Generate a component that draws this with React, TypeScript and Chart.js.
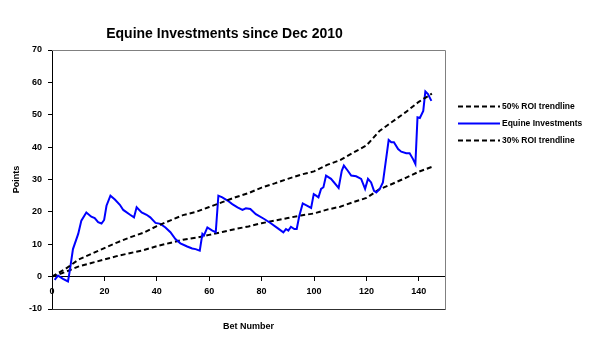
import React, { useEffect, useRef } from 'react';
import { Chart, registerables } from 'chart.js';

Chart.register(...registerables);

const chartTitle = 'Equine Investments since Dec 2010';
const xAxisTitle = 'Bet Number';
const yAxisTitle = 'Points';
const seriesNames = ['50% ROI trendline', 'Equine Investments', '30% ROI trendline'];

const xTicks = [0, 20, 40, 60, 80, 100, 120, 140];
const yTicks = [-10, 0, 10, 20, 30, 40, 50, 60, 70];

const trendBets = [0, 5, 10, 15, 20, 25, 30, 35, 40, 45, 50, 55, 60, 65, 70, 75, 80, 85, 90, 95, 100, 105, 110, 115, 120, 125, 130, 135, 140, 145];
const roi50 = [0, 2.3, 5.2, 7.0, 8.8, 10.6, 12.2, 13.6, 15.6, 17.3, 19.0, 20.0, 21.5, 23.0, 24.5, 25.8, 27.5, 28.8, 30.2, 31.5, 32.5, 34.5, 36.0, 38.3, 40.5, 45.0, 47.9, 50.8, 54.0, 56.5];
const roi30 = [0, 1.4, 3.1, 4.2, 5.3, 6.4, 7.3, 8.2, 9.4, 10.4, 11.4, 12.0, 12.9, 13.8, 14.7, 15.5, 16.5, 17.3, 18.1, 18.9, 19.5, 20.7, 21.6, 23.0, 24.3, 27.0, 28.7, 30.5, 32.4, 33.9];

const equineBets = [1, 2.3, 4.2, 6.1, 6.8, 8, 10, 11.2, 13.1, 15, 16.3, 17.6, 18.9, 19.9, 20.8, 22.3, 24, 25.9, 27.2, 29.8, 31.3, 32.3, 34.2, 36.1, 37.5, 39.5, 41.4, 43.3, 45.2, 47.1, 49, 51.6, 53.5, 54.8, 56.4, 57.4, 58, 59.3, 61.2, 62.5, 63.5, 65, 67, 68.8, 70.8, 72.7, 74, 75.7, 77.8, 81, 83.5, 86.1, 88.3, 89.3, 90.2, 91.2, 92.5, 93.4, 94.4, 95.7, 97.3, 98.9, 99.9, 100.8, 101.7, 102.7, 103.6, 104.6, 106.5, 109.4, 110.6, 111.4, 112.9, 114.2, 116.1, 118, 119.5, 120.6, 121.8, 122.9, 123.8, 125.1, 126.3, 127.6, 128.5, 129.5, 130.5, 132.1, 133.3, 135.2, 136.5, 137.8, 138.7, 139.5, 140.4, 141.7, 142.5, 143.5, 144.8];
const equinePoints = [-1.0, 0.3, -0.7, -1.5, 1.9, 8.5, 13.2, 17.3, 19.8, 18.5, 18.1, 16.8, 16.4, 17.5, 21.9, 25.0, 23.8, 22.2, 20.6, 19.1, 18.3, 21.4, 19.8, 19.1, 18.3, 16.6, 16.3, 15.2, 13.7, 11.6, 10.3, 9.3, 8.7, 8.5, 8.0, 13.2, 12.7, 15.2, 14.2, 13.7, 25.0, 24.5, 23.5, 22.4, 21.4, 20.6, 21.1, 20.9, 19.3, 17.8, 16.5, 15.0, 13.7, 14.7, 14.2, 15.4, 14.7, 14.7, 18.8, 22.6, 21.9, 21.2, 25.5, 25.0, 24.5, 27.1, 27.6, 31.2, 30.2, 27.4, 32.7, 34.3, 32.7, 31.2, 31.0, 30.2, 27.1, 30.2, 29.1, 26.5, 26.0, 27.1, 29.1, 36.8, 42.2, 41.5, 41.5, 39.4, 38.6, 38.1, 38.1, 36.3, 34.8, 49.2, 49.0, 51.2, 57.2, 56.4, 54.3];

const FONT = "'Liberation Sans', Arial, sans-serif";

const plotBorder = {
  id: 'plotBorder',
  beforeDatasetsDraw(chart: any) {
    const { ctx, chartArea: a } = chart;
    ctx.save();
    ctx.strokeStyle = '#808080';
    ctx.lineWidth = 1;
    ctx.beginPath();
    ctx.moveTo(a.left, Math.round(a.top) + 0.5);
    ctx.lineTo(Math.round(a.right) + 0.5, Math.round(a.top) + 0.5);
    ctx.lineTo(Math.round(a.right) + 0.5, Math.round(a.bottom) + 0.5);
    ctx.stroke();
    ctx.strokeStyle = '#303030';
    ctx.beginPath();
    ctx.moveTo(a.left, Math.round(a.bottom) + 0.5);
    ctx.lineTo(Math.round(a.right) + 0.5, Math.round(a.bottom) + 0.5);
    ctx.stroke();
    ctx.restore();
  },
};

const sideLegend = {
  id: 'sideLegend',
  afterDraw(chart: any) {
    const { ctx, chartArea: a } = chart;
    const x0 = a.right + 13;
    const x1 = a.right + 55;
    ctx.save();
    chart.data.datasets.forEach((ds: any, i: number) => {
      const y = 106.5 + i * 17;
      ctx.strokeStyle = ds.borderColor;
      ctx.lineWidth = 2;
      ctx.setLineDash(ds.borderDash || []);
      ctx.beginPath();
      ctx.moveTo(x0, y);
      ctx.lineTo(x1, y);
      ctx.stroke();
      ctx.setLineDash([]);
      ctx.fillStyle = '#000';
      ctx.font = `bold 8.5px ${FONT}`;
      ctx.textBaseline = 'middle';
      ctx.textAlign = 'left';
      ctx.fillText(ds.label, x1 + 2, y);
    });
    ctx.restore();
  },
};

export default function App() {
  const ref = useRef<HTMLCanvasElement>(null);

  useEffect(() => {
    if (!ref.current) return;
    const pts = (xs: number[], ys: number[]) => xs.map((x, i) => ({ x, y: ys[i] }));
    const chart = new Chart(ref.current, {
      type: 'line',
      data: {
        datasets: [
          {
            label: seriesNames[0],
            data: pts(trendBets, roi50),
            borderColor: '#000000',
            borderWidth: 2,
            borderDash: [5, 3],
            pointRadius: 0,
            tension: 0,
            xAxisID: 'x',
            yAxisID: 'y',
          },
          {
            label: seriesNames[1],
            data: pts(equineBets, equinePoints),
            borderColor: '#0000FF',
            borderWidth: 2,
            pointRadius: 0,
            tension: 0,
            xAxisID: 'x',
            yAxisID: 'y',
          },
          {
            label: seriesNames[2],
            data: pts(trendBets, roi30),
            borderColor: '#000000',
            borderWidth: 2,
            borderDash: [5, 3],
            pointRadius: 0,
            tension: 0,
            xAxisID: 'x',
            yAxisID: 'y',
          },
        ],
      },
      options: {
        animation: false,
        responsive: false,
        maintainAspectRatio: false,
        layout: { padding: { left: 4, right: 157, top: 0, bottom: 19 } },
        plugins: {
          legend: { display: false },
          tooltip: { enabled: false },
          title: {
            display: true,
            text: chartTitle,
            color: '#000',
            font: { family: FONT, size: 14, weight: 'bold', lineHeight: 1.2 },
            padding: { top: 26, bottom: 7.2 },
          },
        },
        scales: {
          x: {
            type: 'linear',
            position: { y: 0 } as any,
            min: 0,
            max: 150,
            afterBuildTicks: (s: any) => {
              s.ticks = xTicks.map((v) => ({ value: v }));
            },
            grid: { display: true, drawOnChartArea: false, drawTicks: true, tickLength: 4, color: '#000' },
            border: { display: true, color: '#000', width: 1 },
            ticks: {
              color: '#000',
              padding: 5,
              maxRotation: 0,
              font: { family: FONT, size: 9, weight: 'bold' },
            },
          },
          x2: {
            type: 'linear',
            position: 'bottom',
            min: 0,
            max: 1,
            grid: { display: false },
            border: { display: false },
            ticks: { display: false },
            afterFit: (s: any) => {
              s.height = 24;
            },
            title: {
              display: true,
              text: xAxisTitle,
              color: '#000',
              font: { family: FONT, size: 9, weight: 'bold', lineHeight: 1.2 },
              padding: { top: 12, bottom: 1 },
            },
          },
          y: {
            type: 'linear',
            position: 'left',
            min: -10,
            max: 70,
            afterBuildTicks: (s: any) => {
              s.ticks = yTicks.map((v) => ({ value: v }));
            },
            afterFit: (s: any) => {
              s.width = 48;
            },
            grid: { display: true, drawOnChartArea: false, drawTicks: true, tickLength: 4, color: '#000' },
            border: { display: true, color: '#000', width: 1 },
            ticks: {
              color: '#000',
              padding: 6,
              font: { family: FONT, size: 9, weight: 'bold' },
            },
            title: {
              display: true,
              text: yAxisTitle,
              color: '#000',
              font: { family: FONT, size: 9, weight: 'bold', lineHeight: 1.2 },
              padding: { top: 7, bottom: 0 },
            },
          },
        },
      },
      plugins: [plotBorder, sideLegend],
    });
    return () => chart.destroy();
  }, []);

  return (
    <div style={{ position: 'absolute', left: 0, top: 0, width: 602, height: 352, background: '#fff' }}>
      <canvas ref={ref} width={602} height={352} style={{ display: 'block', width: 602, height: 352 }} />
    </div>
  );
}
